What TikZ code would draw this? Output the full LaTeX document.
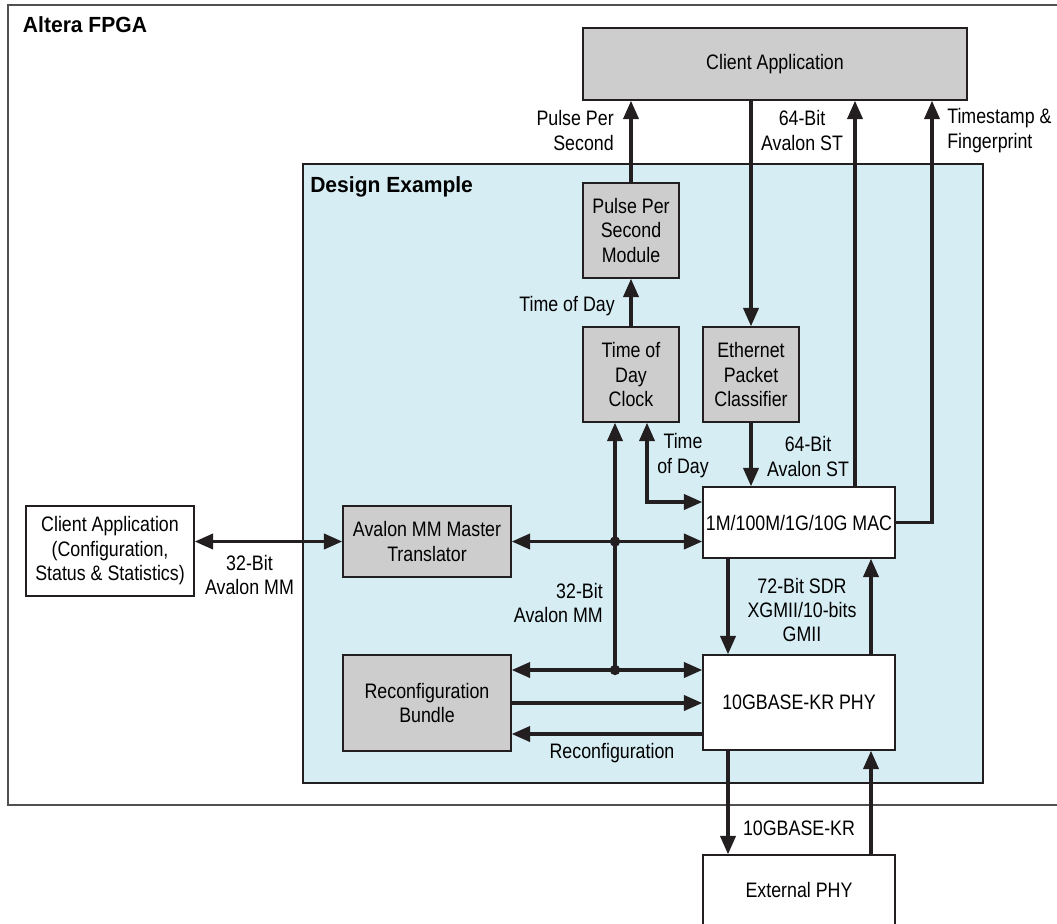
\documentclass[tikz,border=0pt]{standalone}
\usepackage{fontspec}
\setmainfont{Liberation Sans}[FakeStretch=0.85]
\newfontfamily\headfont{Liberation Sans}[FakeStretch=0.96]
\usetikzlibrary{arrows.meta,positioning}
\definecolor{boxgray}{RGB}{206,205,205}
\definecolor{dexblue}{RGB}{214,237,244}
\definecolor{inkline}{RGB}{35,31,32}
\definecolor{fpgaline}{RGB}{80,80,80}
\tikzset{
  block/.style={
      rectangle,
      draw=inkline,
      line width=1pt,
      fill=white,
      inner sep=0pt,
      align=center
  },
  gblock/.style={block, fill=boxgray},
  bus/.style={draw=inkline, line width=2.4pt},
  lbl/.style={inner sep=0pt, align=center},
  head/.style={inner sep=0pt, anchor=base west, font=\headfont\bfseries\fontsize{15.6pt}{18pt}\selectfont},
  jdot/.style={circle, fill=inkline, inner sep=0pt, minimum size=2.6mm}
}

\begin{document}
\begin{tikzpicture}[x=0.025cm,y=-0.025cm,>={Triangle[length=4.6mm,width=3.8mm]},font=\fontsize{14.9pt}{17.4pt}\selectfont]
    \useasboundingbox (0,0) rectangle (1057,923);
    \draw[fpgaline,line width=1.3pt] (1060,5) -- (8,5) -- (8,805) -- (1060,805);
    \node[head] (fpgalbl) at (22.7,32.7) {Altera FPGA};
    \node[block, fill=dexblue, minimum width=17cm, minimum height=15.475cm] (dex) at (643,473.5) {};
    \node[head] (dexlbl) at (310,192.7) {Design Example};

    \node[gblock, minimum width=9.6cm, minimum height=1.8cm] (client) at (775,64) {Client Application};
    \node[gblock, minimum width=2.4cm, minimum height=2.375cm] (pps) at (631,230.5) {Pulse Per\\Second\\Module};
    \node[gblock, minimum width=2.4cm, minimum height=2.375cm] (tod) at (631,374.5) {Time of\\Day\\Clock};
    \node[gblock, minimum width=2.4cm, minimum height=2.375cm] (epc) at (751,374.5) {Ethernet\\Packet\\Classifier};
    \node[block, minimum width=4.8cm, minimum height=1.775cm] (mac) at (799,522.5) {1M/100M/1G/10G MAC};
    \node[block, minimum width=4.8cm, minimum height=2.375cm] (phy) at (799,702.5) {10GBASE-KR PHY};
    \node[block, minimum width=4.8cm, minimum height=1.75cm] (extphy) at (799,890) {External PHY};
    \node[block, minimum width=4.2cm, minimum height=2.25cm] (cfgapp) at (110,551) {Client Application\\(Configuration,\\Status \& Statistics)};
    \node[gblock, minimum width=4.2cm, minimum height=1.775cm] (mmxl) at (427,541.5) {Avalon MM Master\\Translator};
    \node[gblock, minimum width=4.2cm, minimum height=2.4cm] (rcfg) at (427,703) {Reconfiguration\\Bundle};

    \coordinate (j1) at (615,541.5);
    \coordinate (j2) at (615,670);
    \coordinate (todx) at (647,502);
    \coordinate (rb) at (0,734);
    \coordinate (dn) at (728,0);
    \coordinate (up) at (871,0);
    \coordinate (stx) at (855,0);
    \coordinate (tsx) at (932,0);

    \draw[bus,->] (pps) -- (pps |- client.south);
    \draw[bus,->] (client.south -| epc) -- (epc);
    \draw[bus,->] (mac.north -| stx) -- (client.south -| stx);
    \draw[bus,->] (mac) -- (mac -| tsx) -- (client.south -| tsx);
    \draw[bus,->] (tod) -- (pps);
    \draw[bus,<->] (tod.south -| todx) |- (mac.west |- todx);
    \draw[bus,->] (epc) -- (epc |- mac.north);
    \draw[bus,<->] (cfgapp.east |- j1) -- (mmxl.west |- j1);
    \draw[bus,<->] (mmxl.east |- j1) -- (mac.west |- j1);
    \draw[bus,->] (j2) -- (tod.south -| j2);
    \draw[bus,<->] (rcfg.east |- j2) -- (phy.west |- j2);
    \draw[bus,->] (rcfg.east) -- (rcfg.east -| phy.west);
    \draw[bus,->] (phy.west |- rb) -- (rcfg.east |- rb);
    \draw[bus,->] (mac.south -| dn) -- (phy.north -| dn);
    \draw[bus,->] (phy.north -| up) -- (mac.south -| up);
    \draw[bus,->] (phy.south -| dn) -- (extphy.north -| dn);
    \draw[bus,->] (extphy.north -| up) -- (phy.south -| up);
    \node[jdot] (jd1) at (j1) {};
    \node[jdot] (jd2) at (j2) {};

    \node[lbl, anchor=east, align=right] (ppslbl) at (614,130.5) {Pulse Per\\Second};
    \node[lbl] (stlbl) at (802,130.5) {64-Bit\\Avalon ST};
    \node[lbl, anchor=west, align=left] (tslbl) at (947,130.5) {Timestamp \&\\Fingerprint};
    \node[lbl, anchor=east] (todlbl) at (615,306) {Time of Day};
    \node[lbl] (todlbl2) at (683,455.5) {Time\\of Day};
    \node[lbl] (macstlbl) at (808,456.5) {64-Bit\\Avalon ST};
    \node[lbl] (mmlbl) at (249.5,575) {32-Bit\\Avalon MM};
    \node[lbl, anchor=east, align=right] (busmmlbl) at (603,603) {32-Bit\\Avalon MM};
    \node[lbl] (xgmiilbl) at (802,610) {72-Bit SDR\\XGMII/10-bits\\GMII};
    \node[lbl] (rcfglbl) at (612,753) {Reconfiguration};
    \node[lbl] (krlbl) at (799,828) {10GBASE-KR};
\end{tikzpicture}
\end{document}
